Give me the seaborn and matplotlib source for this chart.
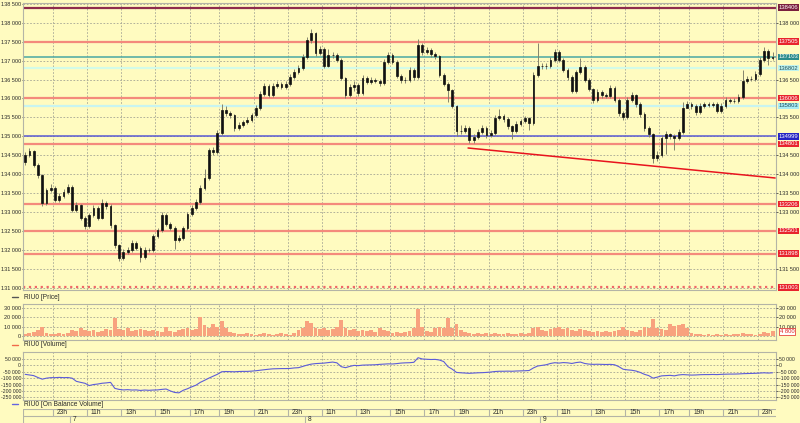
import numpy as np
import pandas as pd
import matplotlib
matplotlib.use("Agg")
import matplotlib.pyplot as plt
from matplotlib.lines import Line2D
from matplotlib.ticker import FuncFormatter
import seaborn as sns

# 15-minute bars, RIU0, from evening of the 6th to the close of the 9th
first_open = 134320
closes = [134510, 134610, 134240, 133980, 133230, 133580, 133630, 133310, 133420, 133530,
          133660, 133050, 133180, 132840, 132630, 132920, 133100, 132840, 133230, 133160,
          132650, 132120, 131780, 131940, 131990, 132180, 132050, 131810, 131990, 131990,
          132360, 132520, 132920, 132680, 132570, 132260, 132310, 132570, 132940, 133100,
          133260, 133630, 133900, 134640, 134590, 135090, 135700, 135620, 135560, 135220,
          135300, 135380, 135430, 135560, 135750, 136120, 136330, 136090, 136330, 136380,
          136300, 136380, 136570, 136700, 136810, 137100, 137550, 137730, 137200, 137310,
          136860, 137150, 137150, 137020, 136540, 136090, 136300, 136360, 136150, 136540,
          136440, 136490, 136460, 136410, 136970, 137150, 136970, 136600, 136490, 136490,
          136750, 136570, 137420, 137230, 137280, 137180, 137120, 136620, 136380, 136220,
          135800, 135140, 135140, 135220, 134900, 134980, 135110, 135220, 135030, 135090,
          135480, 135540, 135460, 135270, 135140, 135330, 135400, 135480, 135350, 136620,
          136860, 136860, 136860, 137020, 137230, 137020, 136750, 136570, 136200, 136700,
          136830, 136490, 136250, 135960, 136170, 136090, 136070, 136280, 135960, 135620,
          135510, 135960, 136090, 135850, 135590, 135220, 135060, 134430, 134510, 134960,
          135060, 135010, 134960, 135110, 135750, 135850, 135800, 135640, 135800, 135850,
          135830, 135850, 135670, 135800, 135960, 135930, 135930, 136040, 136460, 136520,
          136520, 136650, 137020, 137260, 137070, 137100]
highs = [134580, 134680, 134650, 134290, 134010, 133640, 133730, 133680, 133500, 133600,
         133730, 133700, 133260, 133220, 132890, 132980, 133180, 133150, 133330, 133280,
         133200, 132690, 132160, 132010, 132060, 132260, 132230, 132090, 132060, 132050,
         132420, 132580, 132990, 132960, 132730, 132620, 132380, 132640, 133000, 133170,
         133330, 133700, 134140, 134700, 134720, 135160, 135860, 135790, 135680, 135600,
         135370, 135440, 135500, 135620, 135820, 136190, 136410, 136380, 136400, 136450,
         136430, 136450, 136640, 136770, 136890, 137170, 137620, 137840, 137770, 137380,
         137350, 137300, 137220, 137200, 137060, 136580, 136380, 136450, 136400, 136620,
         136600, 136560, 136550, 136520, 137040, 137240, 137200, 137010, 136650, 136560,
         136820, 136800, 137580, 137480, 137350, 137340, 137240, 137160, 136670, 136440,
         136260, 135830, 135300, 135310, 135260, 135060, 135190, 135300, 135270, 135160,
         135560, 135720, 135600, 135500, 135310, 135400, 135470, 135550, 135520, 136700,
         137470, 136930, 136940, 137090, 137320, 137280, 137070, 136800, 136620, 136760,
         137070, 136880, 136540, 136290, 136250, 136230, 136150, 136360, 136320, 136000,
         135670, 136040, 136160, 136130, 135900, 135640, 135270, 135100, 134620, 135030,
         135140, 135090, 135070, 135190, 135920, 135930, 135900, 135850, 135870, 135920,
         135910, 135920, 135900, 135870, 136040, 136010, 136000, 136120, 136750, 136590,
         136590, 136730, 137090, 137370, 137310, 137220]
lows = [134250, 134450, 134180, 133900, 133150, 133180, 133520, 133250, 133260, 133380,
        133470, 132990, 133000, 132780, 132560, 132580, 132870, 132780, 132800, 133080,
        132580, 132040, 131700, 131720, 131880, 131940, 131990, 131680, 131760, 131930,
        131940, 132300, 132480, 132620, 132510, 132030, 132200, 132260, 132520, 132890,
        133040, 133210, 133580, 133850, 134510, 134540, 135040, 135550, 135490, 135150,
        135160, 135240, 135330, 135380, 135500, 135700, 136060, 136030, 136040, 136280,
        136240, 136240, 136330, 136510, 136640, 136750, 137050, 137480, 137130, 137140,
        136800, 136820, 137080, 136960, 136480, 136020, 136040, 136200, 136070, 136100,
        136380, 136380, 136400, 136340, 136360, 136910, 136900, 136540, 136420, 136420,
        136440, 136500, 136520, 137160, 137170, 137110, 137050, 136560, 136320, 135900,
        135740, 135000, 135060, 135080, 134820, 134830, 134930, 135060, 134960, 134980,
        135040, 135420, 135390, 135200, 134920, 135090, 135270, 135340, 135170, 135300,
        136560, 136790, 136790, 136800, 136960, 136960, 136690, 136500, 136140, 136150,
        136640, 136430, 136190, 135890, 135910, 136020, 136000, 136010, 135900, 135550,
        135440, 135460, 135900, 135780, 135520, 135150, 134990, 134290, 134350, 134450,
        134520, 134940, 134640, 134900, 135060, 135790, 135730, 135570, 135590, 135740,
        135770, 135770, 135610, 135610, 135750, 135870, 135870, 135880, 135990, 136400,
        136450, 136460, 136600, 136960, 136890, 137010]
volumes = [2500, 3000, 4500, 6000, 9700, 3500, 2500, 2000, 3000, 2500,
           3500, 6000, 5500, 9000, 6500, 5000, 6000, 4500, 5500, 7500,
           6000, 19000, 7000, 6500, 8000, 5500, 6000, 7500, 6500, 5000,
           6000, 5500, 4500, 9700, 5000, 4500, 6000, 7000, 8000, 6500,
           7500, 19700, 12000, 9000, 13000, 10000, 15500, 9000, 4000, 3000,
           2500, 2000, 3500, 2500, 1500, 2500, 3000, 2000, 1500, 2500,
           3000, 2000, 1500, 3500, 6000, 8000, 15500, 14000, 9000, 7000,
           8500, 6500, 7500, 9500, 16500, 8000, 6500, 7000, 5500, 6000,
           5000, 6500, 4500, 9000, 6000, 5000, 3500, 4500, 3000, 4000,
           5500, 9000, 28600, 10000, 5500, 4000, 8500, 9500, 8000, 19000,
           9000, 13000, 6000, 4000, 3000, 2500, 3500, 2000, 3000, 2500,
           3500, 2500, 2000, 3000, 2500, 2000, 3000, 2500, 3500, 8000,
           9700, 6000, 5000, 7000, 8500, 9500, 7000, 8000, 6500, 5500,
           7000, 6000, 5500, 4000, 5000, 4500, 5000, 4000, 5500, 6000,
           10000, 6000, 5000, 4500, 6000, 10000, 9000, 18500, 9000, 7000,
           6500, 13000, 11000, 12000, 13000, 8000, 3000, 2000, 2500, 1500,
           2000, 1500, 2500, 1000, 2000, 1500, 2500, 2000, 3000, 2000,
           2500, 1500, 2500, 4000, 3500, 4800]
obv = [-70000, -75000, -80000, -95000, -108000, -100000, -96000, -96000, -94000, -96000,
       -95000, -100000, -125000, -133000, -140000, -158000, -150000, -146000, -140000, -137000,
       -133000, -180000, -188000, -192000, -190000, -193000, -192000, -196000, -193000, -195000,
       -193000, -192000, -188000, -185000, -200000, -212000, -215000, -195000, -183000, -168000,
       -155000, -133000, -117000, -100000, -85000, -70000, -50000, -48000, -49000, -50000,
       -48000, -47000, -47000, -45000, -42000, -38000, -34000, -30000, -27000, -26000,
       -25000, -25000, -24000, -20000, -18000, -8000, 2000, 10000, 14000, 16000,
       18000, 22000, 26000, 20000, -10000, -18000, -8000, 0, -2000, 2000,
       3000, 4000, 5000, 8000, 10000, 12000, 11000, 14000, 18000, 20000,
       21000, 24000, 60000, 50000, 48000, 46000, 47000, 42000, 30000, -10000,
       -30000, -55000, -58000, -60000, -62000, -60000, -58000, -57000, -55000, -52000,
       -48000, -46000, -46000, -45000, -46000, -44000, -43000, -42000, -40000, -20000,
       -5000, 0, 5000, 15000, 21000, 18000, 22000, 20000, 15000, 22000,
       26000, 15000, 10000, 8000, 9000, 8000, 7000, 8000, 5000, -10000,
       -30000, -35000, -38000, -44000, -55000, -70000, -80000, -100000, -92000, -82000,
       -80000, -78000, -82000, -75000, -72000, -74000, -76000, -75000, -73000, -72000,
       -72000, -71000, -72000, -70000, -69000, -68000, -68000, -67000, -65000, -64000,
       -63000, -62000, -60000, -58000, -60000, -58000]

hour_bars = [7, 15, 23, 31, 39, 46, 54, 62, 70, 78, 86, 94, 101, 109, 117,
             125, 133, 141, 149, 156, 164, 172]
hour_labels = ['23h', '11h', '13h', '15h', '17h', '19h', '21h', '23h', '11h', '13h', '15h',
               '17h', '19h', '21h', '23h', '11h', '13h', '15h', '17h', '19h', '21h', '23h']
day_bars = [11, 66, 121]
day_labels = ['7', '8', '9']

price_ticks = list(range(131000, 138501, 500))
price_ticks_right = [138000, 136500, 135500, 134500, 134000, 133500, 133000, 131500]
vol_ticks = [0, 10000, 20000, 30000]
obv_ticks = list(range(-250000, 50001, 50000))

levels = [138406, 137505, 137103, 136802, 136006, 135803, 134999, 134801,
          133206, 132501, 131898, 131003]
level_line = ['#8e2c4c', '#f48a7c', '#4aa8a2', '#d2fbe8', '#f48a7c', '#c8f4f0', '#5a5ad2',
              '#f48a7c', '#f48a7c', '#f48a7c', '#f48a7c', '#f06868']
level_box = ['#7a1f3d', '#e8232d', '#2a8c8c', '#bff3ee', '#e8232d', '#a8ecf4', '#2424c4',
             '#e8232d', '#e8232d', '#e8232d', '#e8232d', '#e8232d']
level_text = ['white', 'white', 'white', '#1f4f5a', 'white', '#1f4f5a', 'white',
              'white', 'white', 'white', 'white', 'white']
trend_bars = [103.7, 175.6]
trend_prices = [134690, 133897]

bg = '#fffbc0'
edge = '#b4b4a6'
ink = '#2a2a2a'
grid_kw = dict(color='#a4a494', lw=0.6, ls=(0, (2, 2)))

sns.set_theme(style="white", rc={"axes.facecolor": bg, "figure.facecolor": bg})
plt.rcParams['font.family'] = ['Liberation Sans', 'DejaVu Sans']

n = len(closes)
df = pd.DataFrame({'bar': np.arange(n), 'close': closes, 'high': highs, 'low': lows,
                   'volume': volumes, 'obv': obv})
df['open'] = [first_open] + closes[:-1]

W, H = 800, 423
def box(l, t, r, b):
    return [l / W, 1 - b / H, (r - l) / W, (b - t) / H]

fig = plt.figure(figsize=(8, 4.23), dpi=100)
ax = fig.add_axes(box(23, 3, 776, 290))
axv = fig.add_axes(box(23, 304, 776, 340), sharex=ax)
axo = fig.add_axes(box(23, 352, 776, 400), sharex=ax)
axt = fig.add_axes(box(23, 409, 776, 423), sharex=ax)

fmt = FuncFormatter(lambda v, p: f"{v:,.0f}".replace(",", " "))


def setup_panel(a, ylim, ticks, right_ticks, fs):
    a.set_facecolor(bg)
    for s in a.spines.values():
        s.set_color(edge)
        s.set_linewidth(0.8)
    a.set_ylim(*ylim)
    a.set_yticks(ticks)
    a.yaxis.set_major_formatter(fmt)
    a.tick_params(axis='y', left=True, right=True, labelleft=True, labelright=False,
                  labelsize=fs, length=1, pad=0.5, colors=ink, width=0.5)
    a.tick_params(axis='x', bottom=False, labelbottom=False)
    a.grid(False)
    for t in ticks:
        a.axhline(t, zorder=0, **grid_kw)
    for b in hour_bars:
        a.axvline(b - 0.5, zorder=0, **grid_kw)
    r = a.twinx()
    r.set_ylim(*ylim)
    r.set_yticks(right_ticks)
    r.yaxis.set_major_formatter(fmt)
    r.tick_params(axis='y', right=True, labelright=True, labelsize=fs, length=1.5,
                  pad=0.8, colors=ink, width=0.5)
    r.grid(False)
    for s in r.spines.values():
        s.set_visible(False)
    return r


# price panel
setup_panel(ax, (130934, 138526), price_ticks, price_ticks_right, 4.0)
ax.set_xlim(-0.5, 175.8)
for lvl, lc in zip(levels, level_line):
    ax.axhline(lvl, color=lc, lw=1.1 if lc in ('#4aa8a2', '#5a5ad2') else 1.6,
               ls=':' if lvl == 131003 else '-', zorder=1)
ax.plot(trend_bars, trend_prices, color='#e8141e', lw=1.1, zorder=2)
ax.vlines(df['bar'], df['low'], df['high'], color='#84846c', lw=0.7, zorder=3)
ax.bar(df['bar'], df['close'] - df['open'], bottom=df['open'], width=0.42,
       color='#111111', edgecolor='#111111', lw=0.5, zorder=4)
for lvl, bc, tc in zip(levels, level_box, level_text):
    ax.text(1.003, lvl, str(lvl), transform=ax.get_yaxis_transform(), fontsize=4.2,
            color=tc, va='center', ha='left', zorder=8, clip_on=False,
            bbox=dict(boxstyle='square,pad=0.12', fc=bc, ec='none'))

# volume panel
axv_r = setup_panel(axv, (-4240, 33900), vol_ticks, [10000, 20000, 30000], 4.0)
axv.bar(df['bar'], df['volume'], width=0.9, color='#f8a27e', lw=0, zorder=2)
axv_r.text(1.005, volumes[-1], fmt(volumes[-1]), transform=axv_r.get_yaxis_transform(),
           fontsize=4.2, color='#e02020', va='center', ha='left', zorder=8, clip_on=False,
           bbox=dict(boxstyle='square,pad=0.1', fc='white', ec='#e02020', lw=0.5))

# on balance volume panel
setup_panel(axo, (-271000, 104800), obv_ticks, obv_ticks, 3.7)
sns.lineplot(data=df, x='bar', y='obv', ax=axo, color='#5c5cd8', lw=0.8, zorder=3)
axo.set_xlabel('')
axo.set_ylabel('')
axo.tick_params(axis='x', bottom=False, labelbottom=False)

# time strip
axt.set_ylim(0, 1)
axt.axis('off')
axt.plot([-0.5, 175.8], [1, 1], color=edge, lw=0.8)
axt.plot([-0.5, 175.8], [0.5, 0.5], color=edge, lw=0.8)
axt.plot([-0.5, -0.5], [0, 1], color=edge, lw=0.8)
for b, lab in zip(hour_bars, hour_labels):
    axt.plot([b - 0.5, b - 0.5], [0.5, 1], color=edge, lw=0.8)
    axt.text(b + 0.4, 0.74, lab, fontsize=4.8, va='center', ha='left', color=ink)
for b, lab in zip(day_bars, day_labels):
    axt.plot([b - 0.5, b - 0.5], [0, 0.5], color=edge, lw=0.8)
    axt.text(b + 0.2, 0.22, lab, fontsize=4.8, va='center', ha='left', color=ink)

# series captions
captions = [(297, 'RIU0 [Price]', '#555555'), (345, 'RIU0 [Volume]', '#f06a4a'),
            (404, 'RIU0 [On Balance Volume]', '#6464e0')]
for y, txt, col in captions:
    fig.add_artist(Line2D([12 / W, 18 / W], [1 - y / H] * 2, color=col, lw=1))
    fig.text(24 / W, 1 - y / H, txt, fontsize=4.8, va='center', ha='left', color=ink)

fig.savefig('out.png', dpi=100, facecolor=bg)
